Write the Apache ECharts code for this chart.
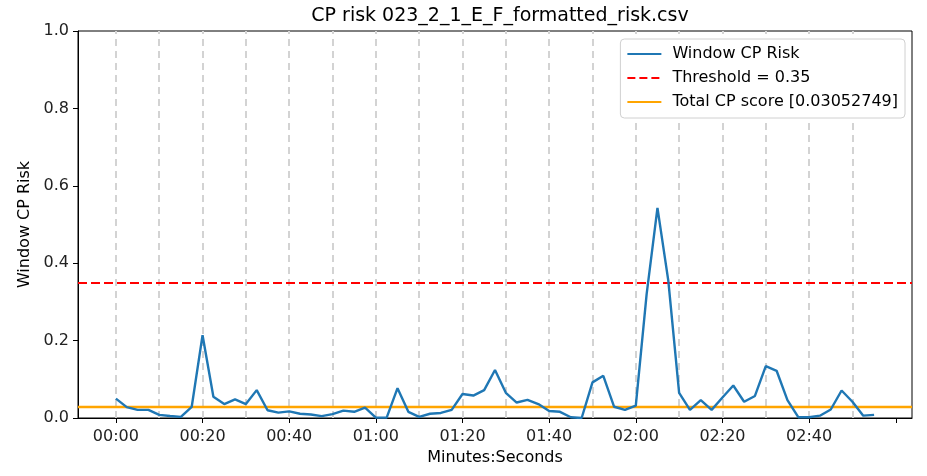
<!DOCTYPE html>
<html>
<head>
<meta charset="utf-8">
<title>CP risk</title>
<script src="https://cdn.jsdelivr.net/npm/echarts@6/dist/echarts.min.js"></script>
<style>
	html, body { margin: 0; padding: 0; background: #fff; }
	#chart { width: 927px; height: 476px; }
</style>
</head>
<body>
<div id="chart"></div>
<script>
// window start times in seconds
var seconds = [
	0, 2.5, 5, 7.5, 10, 12.5, 15, 17.5, 20, 22.5,
	25, 27.5, 30, 32.5, 35, 37.5, 40, 42.5, 45, 47.5,
	50, 52.5, 55, 57.5, 60, 62.5, 65, 67.5, 70, 72.5,
	75, 77.5, 80, 82.5, 85, 87.5, 90, 92.5, 95, 97.5,
	100, 102.5, 105, 107.5, 110, 112.5, 115, 117.5, 120, 122.5,
	125, 127.5, 130, 132.5, 135, 137.5, 140, 142.5, 145, 147.5,
	150, 152.5, 155, 157.5, 160, 162.5, 165, 167.5, 170, 172.5,
	175
];
var windowRisk = [
	0.050, 0.028, 0.021, 0.021, 0.008, 0.005, 0.003, 0.029, 0.214, 0.055,
	0.036, 0.048, 0.036, 0.072, 0.020, 0.014, 0.017, 0.011, 0.009, 0.005,
	0.010, 0.019, 0.016, 0.027, 0.001, 0.001, 0.077, 0.016, 0.003, 0.011,
	0.013, 0.021, 0.062, 0.058, 0.072, 0.124, 0.065, 0.040, 0.047, 0.036,
	0.018, 0.016, 0.002, 0.000, 0.092, 0.109, 0.029, 0.021, 0.032, 0.320,
	0.543, 0.355, 0.065, 0.021, 0.046, 0.021, 0.053, 0.084, 0.042, 0.057,
	0.134, 0.122, 0.046, 0.002, 0.002, 0.006, 0.022, 0.071, 0.042, 0.006,
	0.008
];
var threshold = 0.35;
var totalScore = 0.03052749;

var xTicks = [0, 20, 40, 60, 80, 100, 120, 140, 160, 180];
var xLabels = [0, 20, 40, 60, 80, 100, 120, 140, 160];
var gridSeconds = [0, 10, 20, 30, 40, 50, 60, 70, 80, 90, 100, 110, 120, 130, 140, 150, 160, 170];

var FONT = "DejaVu Sans";

function mmss(v) {
	var m = Math.floor(v / 60);
	var s = Math.round(v - m * 60);
	return (m < 10 ? "0" : "") + m + ":" + (s < 10 ? "0" : "") + s;
}

// matplotlib style margins (5% each side)
var span = seconds[seconds.length - 1] - seconds[0];
var xMin = seconds[0] - span * 0.05;
var xMax = seconds[seconds.length - 1] + span * 0.05;

var myChart = echarts.init(document.getElementById("chart"), null, { renderer: "canvas" });

var option = {
	animation: false,
	backgroundColor: "#fff",
	textStyle: { fontFamily: FONT },
	title: {
		text: "CP risk 023_2_1_E_F_formatted_risk.csv",
		left: 495,
		top: 2,
		textAlign: "center",
		textStyle: { fontFamily: FONT, fontSize: 19, fontWeight: "normal", color: "#000" },
	},
	legend: {
		data: ["Window CP Risk", "Threshold = 0.35", "Total CP score [0.03052749]"],
		orient: "vertical",
		right: 22,
		top: 39,
		z: 20,
		itemWidth: 34,
		itemHeight: 14,
		itemGap: 8,
		padding: [7, 7, 8, 6],
		backgroundColor: "#fff",
		borderColor: "#d0d0d0",
		borderWidth: 1,
		borderRadius: 4,
		itemStyle: { opacity: 0, borderWidth: 0 },
		textStyle: { fontFamily: FONT, fontSize: 16, color: "#000", padding: [0, 0, 0, 6] },
	},
	grid: {
		left: 78,
		right: 15,
		top: 31,
		bottom: 58,
		show: true,
		borderColor: "#000",
		borderWidth: 1,
		containLabel: false,
	},
	xAxis: {
		type: "value",
		min: xMin,
		max: xMax,
		name: "Minutes:Seconds",
		nameLocation: "middle",
		nameGap: 31,
		nameTextStyle: { fontFamily: FONT, fontSize: 16, color: "#000" },
		axisLine: { show: true, onZero: false, lineStyle: { color: "#000", width: 1 } },
		axisTick: { show: true, length: 5, lineStyle: { color: "#000" }, customValues: xTicks },
		axisLabel: {
			margin: 11,
			fontFamily: FONT,
			fontSize: 16,
			color: "#222",
			customValues: xLabels,
			formatter: mmss,
		},
		splitLine: { show: false },
	},
	yAxis: {
		type: "value",
		min: 0,
		max: 1,
		interval: 0.2,
		name: "Window CP Risk",
		nameLocation: "middle",
		nameGap: 43,
		nameTextStyle: { fontFamily: FONT, fontSize: 16, color: "#000" },
		axisLine: { show: true, onZero: false, lineStyle: { color: "#000", width: 1 } },
		axisTick: { show: true, length: 5, lineStyle: { color: "#000" } },
		axisLabel: {
			margin: 9,
			fontFamily: FONT,
			fontSize: 16,
			color: "#222",
			formatter: function (v) { return v.toFixed(1); },
		},
		splitLine: { show: false },
	},
	series: [
		{
			// vertical dashed guides every 10 seconds
			name: "guides",
			type: "line",
			data: [],
			z: 1,
			markLine: {
				z: 1,
				silent: true,
				symbol: "none",
				label: { show: false },
				lineStyle: { color: "#d3d3d3", type: [7, 5], width: 2 },
				data: gridSeconds.map(function (s) { return { xAxis: s }; }),
			},
		},
		{
			name: "Threshold = 0.35",
			type: "line",
			data: [],
			symbol: "none",
			z: 2,
			itemStyle: { color: "#ff0000" },
			lineStyle: { color: "#ff0000", type: [8, 4], width: 2.4 },
			markLine: {
				z: 2,
				silent: true,
				symbol: "none",
				label: { show: false },
				lineStyle: { color: "#ff0000", type: [9, 4], width: 2.2 },
				data: [{ yAxis: threshold }],
			},
		},
		{
			name: "Total CP score [0.03052749]",
			type: "line",
			data: [],
			symbol: "none",
			z: 2,
			itemStyle: { color: "#ffa500" },
			lineStyle: { color: "#ffa500", width: 2.4 },
			markLine: {
				z: 2,
				silent: true,
				symbol: "none",
				label: { show: false },
				lineStyle: { color: "#ffa500", type: "solid", width: 2.4 },
				data: [{ yAxis: totalScore }],
			},
		},
		{
			name: "Window CP Risk",
			type: "line",
			symbol: "none",
			z: 3,
			data: seconds.map(function (s, i) { return [s, windowRisk[i]]; }),
			itemStyle: { color: "#1f77b4" },
			lineStyle: { color: "#1f77b4", width: 2.4 },
		},
	],
};

myChart.setOption(option);
</script>
</body>
</html>
